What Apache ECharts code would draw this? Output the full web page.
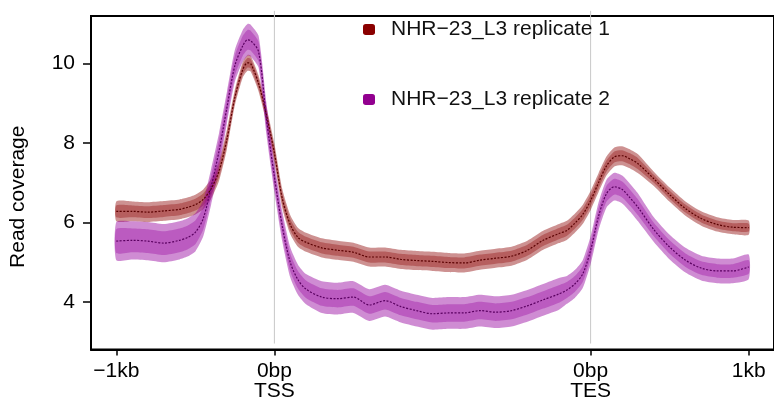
<!DOCTYPE html>
<html>
<head>
<meta charset="utf-8">
<script src="https://cdn.jsdelivr.net/npm/echarts@6/dist/echarts.min.js"></script>
<style>html,body{margin:0;padding:0;background:#fff}#chart{width:774px;height:402px}</style>
</head>
<body>
<div id="chart"></div>
<script>
// positions in scaled bins: 0 = -1kb, 1000 = TSS, 3000 = TES, 4000 = +1kb
const pos = [0,100,200,300,400,450,500,550,600,650,700,750,800,830,850,900,950,1000,1050,1100,1150,1200,1300,1400,1500,1600,1700,1800,1900,2000,2100,2200,2300,2400,2500,2600,2700,2800,2850,2900,2950,3000,3050,3100,3150,3200,3250,3300,3400,3500,3600,3700,3800,3900,4000];

const rep1Mean = [6.28,6.28,6.26,6.29,6.33,6.38,6.45,6.58,6.85,7.3,8.1,9.15,9.85,10.02,10.0,9.5,8.7,7.75,6.6,5.95,5.62,5.5,5.36,5.3,5.25,5.13,5.13,5.07,5.04,5.02,4.99,4.98,5.05,5.1,5.15,5.3,5.55,5.72,5.8,5.98,6.2,6.55,7.0,7.42,7.65,7.68,7.6,7.48,7.1,6.7,6.35,6.1,5.95,5.88,5.87];
const rep1Outer = [0.25,0.25,0.25,0.25,0.25,0.25,0.25,0.25,0.25,0.25,0.25,0.2,0.2,0.2,0.2,0.2,0.2,0.24,0.24,0.24,0.24,0.24,0.24,0.24,0.24,0.24,0.24,0.24,0.24,0.24,0.24,0.24,0.24,0.24,0.24,0.24,0.24,0.24,0.24,0.24,0.24,0.24,0.24,0.24,0.24,0.24,0.24,0.24,0.18,0.18,0.18,0.18,0.18,0.18,0.18];
const rep1Inner = [0.15,0.15,0.15,0.15,0.15,0.15,0.15,0.15,0.15,0.15,0.15,0.12,0.12,0.12,0.12,0.12,0.12,0.14,0.14,0.14,0.14,0.14,0.14,0.14,0.14,0.14,0.14,0.14,0.14,0.14,0.14,0.14,0.14,0.14,0.14,0.14,0.14,0.14,0.14,0.14,0.14,0.14,0.14,0.14,0.14,0.14,0.14,0.14,0.1,0.1,0.1,0.1,0.1,0.1,0.1];

const rep2Mean = [5.53,5.55,5.53,5.48,5.55,5.62,5.75,6.1,6.9,7.8,8.9,9.95,10.45,10.6,10.58,10.3,8.6,7.15,5.9,5.0,4.55,4.32,4.12,4.08,4.12,3.92,4.03,3.88,3.78,3.7,3.72,3.72,3.78,3.74,3.78,3.9,4.05,4.2,4.3,4.45,4.7,5.3,6.15,6.72,6.9,6.83,6.62,6.38,5.82,5.38,5.05,4.85,4.78,4.78,4.88];
const rep2Outer = [0.48,0.48,0.48,0.48,0.48,0.48,0.48,0.45,0.45,0.45,0.4,0.4,0.4,0.4,0.4,0.4,0.4,0.38,0.38,0.38,0.38,0.38,0.4,0.4,0.4,0.4,0.4,0.4,0.4,0.4,0.4,0.4,0.4,0.4,0.4,0.4,0.4,0.4,0.35,0.35,0.35,0.35,0.35,0.35,0.35,0.35,0.35,0.35,0.31,0.31,0.31,0.31,0.31,0.31,0.31];
const rep2Inner = [0.3,0.3,0.3,0.3,0.3,0.3,0.3,0.28,0.28,0.28,0.25,0.25,0.25,0.25,0.25,0.25,0.25,0.22,0.22,0.22,0.22,0.22,0.22,0.22,0.22,0.22,0.22,0.22,0.22,0.22,0.22,0.22,0.22,0.22,0.22,0.22,0.22,0.22,0.2,0.2,0.2,0.2,0.2,0.2,0.2,0.2,0.2,0.2,0.17,0.17,0.17,0.17,0.17,0.17,0.17];

const seriesNames = ['NHR\u221223_L3 replicate 1', 'NHR\u221223_L3 replicate 2'];
const xTickValues = [0, 1000, 3000, 4000];
const xTickLabels = ['\u22121kb', '0bp\nTSS', '0bp\nTES', '1kb'];
const yTickValues = [4, 6, 8, 10];
const refLines = [1000, 3000];

const FONT = '"Liberation Sans", Arial, Helvetica, sans-serif';

function band(mean, half, color, z) {
  return {
    type: 'custom', silent: true, z: z,
    data: pos.map((x, i) => [x, mean[i] - half[i], mean[i] + half[i]]),
    encode: { x: 0, y: [1, 2] },
    renderItem: function (params, api) {
      if (params.dataIndex !== 0) return null;
      const up = [], dn = [];
      for (let i = 0; i < pos.length; i++) {
        up.push(api.coord([pos[i], mean[i] + half[i]]));
        dn.push(api.coord([pos[i], mean[i] - half[i]]));
      }
      return { type: 'polygon', shape: { points: up.concat(dn.reverse()), smooth: 0.2 }, style: { fill: color } };
    }
  };
}

function meanLine(name, mean, color, legendColor, z) {
  return {
    type: 'line', name: name, z: z, smooth: 0.3, showSymbol: false, silent: true,
    data: pos.map((x, i) => [x, mean[i]]),
    itemStyle: { color: legendColor },
    lineStyle: { color: color, width: 1.2, type: [2, 1.5] }
  };
}

const chart = echarts.init(document.getElementById('chart'));
chart.setOption({
  animation: false,
  backgroundColor: '#fff',
  textStyle: { fontFamily: FONT },
  grid: { left: 90, top: 16, width: 686, height: 336, show: true, borderColor: '#000', borderWidth: 2, backgroundColor: 'transparent' },
  xAxis: {
    type: 'value', min: -160, max: 4160,
    axisLine: { show: true, onZero: false, lineStyle: { color: '#000', width: 2 } },
    splitLine: { show: false },
    axisTick: { show: true, length: 6, lineStyle: { color: '#000', width: 1.5 }, customValues: xTickValues },
    axisLabel: {
      customValues: xTickValues, color: '#000', fontSize: 21, fontFamily: FONT, lineHeight: 20, margin: 12,
      formatter: function (v) { return xTickLabels[xTickValues.indexOf(v)]; }
    }
  },
  yAxis: {
    type: 'value', min: 2.8, max: 11.2,
    name: 'Read coverage', nameLocation: 'middle', nameGap: 62, nameRotate: 90,
    nameTextStyle: { color: '#000', fontSize: 21, fontFamily: FONT, padding: [0, 28, 0, 0] },
    axisLine: { show: true, onZero: false, lineStyle: { color: '#000', width: 2 } },
    splitLine: { show: false },
    axisTick: { show: true, length: 8, lineStyle: { color: '#000', width: 1.5 }, customValues: yTickValues },
    axisLabel: { customValues: yTickValues, color: '#000', fontSize: 21, fontFamily: FONT, margin: 16 }
  },
  legend: {
    orient: 'vertical', left: 363, top: 17, padding: 0, itemGap: 45,
    icon: 'roundRect', itemWidth: 12, itemHeight: 11,
    itemStyle: { borderWidth: 0 },
    textStyle: { color: '#111', fontSize: 21, fontFamily: FONT, lineHeight: 21, padding: [4, 0, 0, 11] },
    data: [
      { name: seriesNames[0], itemStyle: { color: '#8a0000' } },
      { name: seriesNames[1], itemStyle: { color: '#92008f' } }
    ]
  },
  series: [
    {
      type: 'custom', silent: true, z: 1,
      data: refLines.map(v => [v]),
      encode: { x: 0 },
      renderItem: function (params, api) {
        const a = api.coord([api.value(0), 11.33]);
        const b = api.coord([api.value(0), 2.95]);
        return { type: 'line', shape: { x1: a[0], y1: a[1], x2: b[0], y2: b[1] }, style: { stroke: '#c8c8c8', lineWidth: 1 } };
      }
    },
    band(rep1Mean, rep1Outer, 'rgba(139,0,0,0.43)', 2),
    band(rep1Mean, rep1Inner, 'rgba(139,0,0,0.35)', 3),
    band(rep2Mean, rep2Outer, 'rgba(148,0,158,0.45)', 4),
    band(rep2Mean, rep2Inner, 'rgba(148,0,158,0.35)', 5),
    meanLine(seriesNames[0], rep1Mean, '#5a0000', '#8a0000', 6),
    meanLine(seriesNames[1], rep2Mean, '#5a0060', '#92008f', 7)
  ]
});
</script>
</body>
</html>
